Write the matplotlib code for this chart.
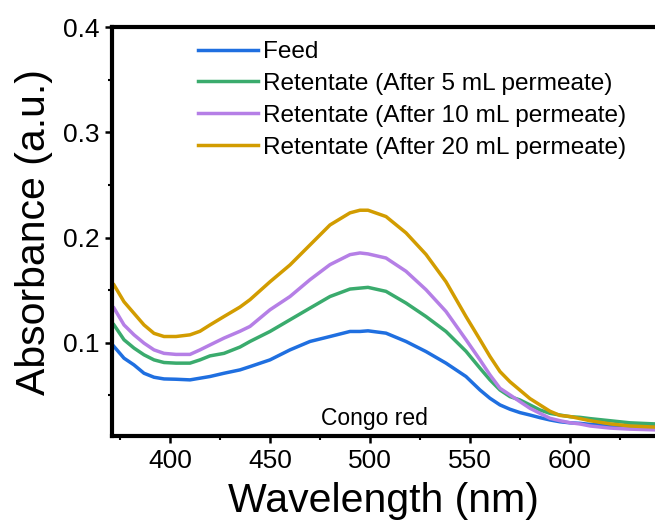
import matplotlib
matplotlib.use("Agg")
import matplotlib.pyplot as plt
from matplotlib.ticker import MultipleLocator

plt.rcParams["font.family"] = ["Liberation Sans", "DejaVu Sans"]

# wavelength (nm)
wavelength = [372, 377, 382, 387, 392, 397, 403, 410, 415, 420,
              427, 435, 440, 450, 460, 470, 480, 490, 495, 499,
              508, 518, 528, 538, 548, 555, 560, 565, 570, 575,
              580, 585, 590, 595, 600, 605, 610, 620, 630, 648]

feed = [0.0965, 0.0854, 0.079, 0.0711, 0.0673, 0.0657, 0.0654, 0.0648, 0.0664, 0.068,
        0.0711, 0.0743, 0.0774, 0.0838, 0.0933, 0.1013, 0.106, 0.1108, 0.1108, 0.1114,
        0.1092, 0.1013, 0.0917, 0.0807, 0.068, 0.0552, 0.0473, 0.041, 0.0369, 0.0337,
        0.0314, 0.0289, 0.0267, 0.025, 0.024, 0.0235, 0.0225, 0.0215, 0.021, 0.0205]
ret_5 = [0.117, 0.1029, 0.095, 0.0886, 0.0838, 0.0813, 0.0807, 0.0807, 0.0838, 0.0876,
         0.090, 0.096, 0.1013, 0.1108, 0.1219, 0.133, 0.144, 0.1511, 0.152, 0.1527,
         0.1489, 0.1378, 0.125, 0.1108, 0.092, 0.0759, 0.0648, 0.0552, 0.0489, 0.0457,
         0.041, 0.0362, 0.033, 0.0314, 0.0298, 0.0292, 0.028, 0.026, 0.024, 0.0225]
ret_10 = [0.133, 0.117, 0.1076, 0.0997, 0.0933, 0.090, 0.089, 0.089, 0.0933, 0.098,
          0.1045, 0.111, 0.1156, 0.1314, 0.144, 0.160, 0.1743, 0.1838, 0.1854, 0.1845,
          0.1806, 0.168, 0.1505, 0.1298, 0.103, 0.0838, 0.0695, 0.0568, 0.0505, 0.0441,
          0.0378, 0.033, 0.0283, 0.026, 0.0241, 0.0229, 0.021, 0.019, 0.018, 0.017]
ret_20 = [0.155, 0.139, 0.128, 0.117, 0.109, 0.106, 0.106, 0.1076, 0.111, 0.117,
          0.125, 0.134, 0.141, 0.158, 0.174, 0.193, 0.212, 0.2235, 0.226, 0.226,
          0.220, 0.2045, 0.184, 0.158, 0.125, 0.103, 0.087, 0.0727, 0.063, 0.055,
          0.047, 0.041, 0.035, 0.031, 0.030, 0.028, 0.026, 0.023, 0.021, 0.0195]

labels = ["Feed",
          "Retentate (After 5 mL permeate)",
          "Retentate (After 10 mL permeate)",
          "Retentate (After 20 mL permeate)"]
colors = ["#1f6fe0", "#3aab6d", "#b57fe6", "#d29c00"]

fig = plt.figure(figsize=(6.55, 5.21), dpi=100)
# right spine sits just past the image edge, like the cropped original
ax = fig.add_axes([0.171, 0.163, 0.8366, 0.785])

for ys, lab, col in zip([feed, ret_5, ret_10, ret_20], labels, colors):
    ax.plot(wavelength, ys, color=col, lw=2.5, label=lab)

ax.set_xlim(371, 645)
ax.set_ylim(0.0114, 0.4)
ax.xaxis.set_major_locator(MultipleLocator(50))
ax.xaxis.set_minor_locator(MultipleLocator(25))
ax.yaxis.set_minor_locator(MultipleLocator(0.05))
ax.set_yticks([0.1, 0.2, 0.3, 0.4])
ax.set_yticklabels(["0.1", "0.2", "0.3", "0.4"])

for sp in ax.spines.values():
    sp.set_linewidth(3)
ax.tick_params(which="major", direction="out", length=5, width=1.8,
               labelsize=19, pad=4)
ax.tick_params(which="minor", direction="out", length=3, width=1.5)

ax.set_xlabel("Wavelength (nm)", fontsize=29.5)
ax.set_ylabel("Absorbance (a.u.)", fontsize=29.5)
ax.xaxis.set_label_coords(0.496, -0.112)
ax.yaxis.set_label_coords(-0.108, 0.5)

ax.text(502, 0.022, "Congo red", fontsize=16.5, ha="center", va="baseline")

ax.legend(loc="upper left", bbox_to_anchor=(0.139, 0.99), frameon=False,
          fontsize=17.6, handlelength=2.45, handletextpad=0.2,
          labelspacing=0.4, borderaxespad=0)

fig.savefig("out.png", dpi=100)
